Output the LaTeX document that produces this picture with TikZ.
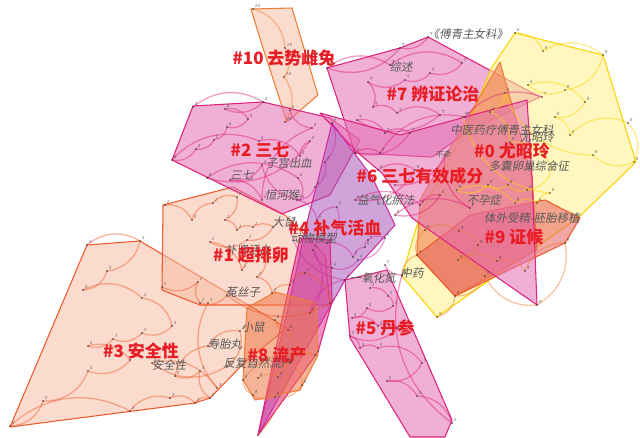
\documentclass[tikz,border=0pt]{standalone}
\usepackage{fontspec}
\newfontfamily\cjk{Noto Sans CJK SC}
\newfontfamily\cjkit[FakeSlant=0.18]{Noto Sans CJK SC}
\definecolor{peachF}{RGB}{248,190,165}
\definecolor{peachD}{RGB}{238,90,45}
\definecolor{pinkF}{RGB}{228,110,180}
\definecolor{pinkD}{RGB}{222,35,125}
\definecolor{yelF}{RGB}{255,242,140}
\definecolor{yelD}{RGB}{250,212,0}
\definecolor{oraF}{RGB}{240,120,70}
\definecolor{oraD}{RGB}{240,125,55}
\definecolor{redF}{RGB}{232,95,95}
\definecolor{purF}{RGB}{170,90,185}
\definecolor{purD}{RGB}{205,45,165}
\definecolor{magF}{RGB}{222,55,150}
\definecolor{cluRed}{RGB}{232,28,36}
% points of one cluster: name, number, arc colour, list
\newcommand\clusterdots[4]{%
  \foreach \x/\y [count=\i] in {#4} {\coordinate (#1-\i) at (\x,\y);}
  \foreach \x/\y [count=\i, remember=\i as \j (initially 1)] in {#4}
    {\ifnum\i>1 \draw[arc=#3] (#1-\j) to[bend left=35] (#1-\i);\fi}
  \foreach \x/\y [count=\i] in {#4} {\node[dot=#2] (#1-n\i) at (#1-\i) {};}
}
\begin{document}
\begin{tikzpicture}[x=0.03cm, y=-0.03cm]
\tikzset{
  hull/.style 2 args={draw=#1, fill=#2, fill opacity=0.55, line width=0.9pt, line join=round},
  arc/.style={draw=#1, line width=1.1pt, opacity=0.45},
  dot/.style={circle, fill=black!80, inner sep=0.55pt,
    label={[font=\fontsize{4}{4}\itshape\selectfont, text=black!75, inner sep=0.3pt]45:#1}},
  clu/.style={font=\cjk\bfseries\fontsize{14.5}{15}\selectfont, text=cluRed, inner sep=0pt},
  kw/.style={font=\cjkit\fontsize{9.8}{10}\selectfont, text=black!65, inner sep=0pt},
}
\fill[white] (0,0) rectangle (640,437);
\useasboundingbox (0,0) rectangle (640,437);
% -------------------------------------------------
% cluster hulls
\draw[hull={peachD}{peachF}] (10,427) -- (87,245) -- (140,241) -- (287,328) -- (245,362) -- (210,398) -- (195,403) -- cycle;
\draw[hull={peachD}{peachF}] (163,205) -- (233,187) -- (285,215) -- (325,255) -- (330,305) -- (200,305) -- (162,290) -- cycle;
\draw[hull={oraD}{peachF}] (251,9) -- (292,8) -- (318,95) -- (287,122) -- (262,45) -- cycle;
\draw[hull={pinkD}{pinkF}] (193,106) -- (263,102) -- (330,118) -- (360,140) -- (330,195) -- (282,214) -- (172,160) -- cycle;
\draw[hull={pinkD}{pinkF}] (327,68) -- (400,48) -- (428,37) -- (540,97) -- (470,130) -- (432,157) -- (355,153) -- cycle;
\draw[hull={yelD}{yelF}] (515,33) -- (603,55) -- (636,162) -- (578,218) -- (437,317) -- (402,276) -- (420,215) -- (470,120) -- (492,67) -- cycle;
\draw[hull={oraD}{oraF}] (500,62) -- (532,177) -- (537,250) -- (455,296) -- (417,255) -- (420,200) -- cycle;
\draw[hull={peachD}{redF}] (417,255) -- (455,296) -- (565,243) -- (580,218) -- (545,200) -- (470,215) -- cycle;
\draw[hull={pinkD}{pinkF}] (320,113) -- (400,135) -- (527,100) -- (532,177) -- (537,305) -- (412,218) -- (382,173) -- (357,152) -- cycle;
\draw[hull={purD}{purF}] (332,123) -- (372,177) -- (395,225) -- (345,280) -- (258,435) -- (290,300) -- (305,230) -- (318,180) -- cycle;
\draw[hull={pinkD}{magF}] (300,238) -- (330,240) -- (332,302) -- (318,352) -- (258,435) -- (285,305) -- cycle;
\draw[hull={oraD}{oraF}] (247,308) -- (275,292) -- (316,303) -- (318,355) -- (300,390) -- (255,400) -- (243,380) -- cycle;
\draw[hull={pinkD}{pinkF}] (345,280) -- (387,270) -- (452,420) -- (445,437) -- (410,437) -- (350,338) -- cycle;
% -------------------------------------------------
% member points and their links
\clusterdots{c10}{10}{oraD}{253/9, 285/48, 284/77, 285/122}
\clusterdots{c2}{2}{pinkD}{193/107, 263/102, 225/109, 248/119, 227/127, 214/140, 196/149, 172/160, 259/141, 300/156, 310/141, 207/178, 298/178, 300/200, 262/165, 230/180, 262/200, 312/128, 290/110}
\clusterdots{c7}{7}{pinkD}{428/37, 400/48, 327/68, 390/65, 462/63, 430/73, 405/80, 368/82, 373/107, 397/113, 440/115, 357/120, 385/133, 410/133, 355/153, 380/153, 465/117, 542/97}
\clusterdots{c0}{0}{yelD}{515/33, 543/51, 603/55, 565/90, 528/85, 585/102, 555/117, 570/135, 628/123, 634/162, 593/155, 505/93, 490/112, 510/142, 552/168, 527/190, 508/185, 488/185, 457/190, 515/203, 537/203, 550/193, 463/117}
\clusterdots{c9}{9}{oraD}{402/276, 417/255, 425/230, 459/231, 478/245, 458/260, 497/261, 525/271, 565/243, 537/305, 485/276, 455/296, 437/317}
\clusterdots{c6}{6}{pinkD}{378/170, 415/170, 355/200, 420/205, 440/195, 395/215, 470/208, 445/155, 395/185}
\clusterdots{c4}{4}{purD}{332/123, 325/162, 315/187, 297/200, 317/220, 337/207, 327/243, 353/257, 365/247, 368/240, 385/238, 358/260, 332/268, 313/250, 310/313, 345/280, 290/228}
\clusterdots{c1}{1}{peachD}{165/205, 192/220, 213/203, 237/197, 225/220, 237/230, 253/227, 273/227, 247/240, 210/242, 242/270, 265/255, 257/277, 272/293, 290/285, 305/273, 330/303, 227/295, 200/303, 198/282, 162/287}
\clusterdots{c3}{3}{peachD}{87/245, 140/241, 107/271, 83/290, 142/298, 172/326, 142/333, 113/339, 88/346, 130/360, 88/371, 43/401, 10/426, 130/411, 170/398, 195/403, 210/398, 200/371, 175/376, 208/346, 240/331, 227/366, 152/363, 217/388, 208/303}
\clusterdots{c8}{8}{oraD}{258/378, 278/377, 290/363, 302/385, 275/397, 253/395, 243/380, 315/355, 288/330, 275/320, 258/435}
\clusterdots{c5}{5}{pinkD}{370/288, 388/296, 393/306, 367/308, 352/318, 378/326, 398/328, 350/336, 360/348, 378/348, 422/363, 387/381, 417/396, 452/423, 402/275, 385/265}
% -------------------------------------------------
% keywords
\node[kw] (kwFuQing)  at (468,34)  {《傅青主女科》};
\node[kw] (kwZongShu) at (401,67)  {综述};
\node[kw] (kwZhongYi) at (502,130) {中医药疗傅青主女科};
\node[kw] (kwYou)     at (537,137) {尤昭玲};
\node[kw] (kwDuoNang) at (529,166) {多囊卵巢综合征};
\node[kw, font=\cjkit\fontsize{6.5}{7}\selectfont] (kwBuYun) at (443,155) {不孕};
\node[kw] (kwYiQi)    at (386,200) {益气化瘀法};
\node[kw] (kwBuYunZ)  at (484,200) {不孕症};
\node[kw] (kwTiWai)   at (532,218) {体外受精-胚胎移植};
\node[kw] (kwZiGong)  at (289,163) {子宫出血};
\node[kw] (kwSanQi)   at (242,175) {三七};
\node[kw] (kwHengHe)  at (282,195) {恒河猴};
\node[kw] (kwDaShu)   at (284,222) {大鼠};
\node[kw] (kwDongWu)  at (314,238) {动物模型};
\node[kw] (kwBuShen)  at (248,250) {补肾活血};
\node[kw] (kwTuSi)    at (243,292) {菟丝子};
\node[kw] (kwYiYang)  at (373,278) {一氧化氮};
\node[kw] (kwZhongYao) at (412,273) {中药};
\node[kw] (kwXiaoShu) at (253,327) {小鼠};
\node[kw] (kwShouTai) at (225,344) {寿胎丸};
\node[kw] (kwFanFu)   at (258,363) {反复自然流产};
\node[kw] (kwAnQuan)  at (169,365) {安全性};
% -------------------------------------------------
% cluster labels
\node[clu] (lab10) at (284,58)  {\#10 去势雌兔};
\node[clu] (lab7)  at (433,94)  {\#7 辨证论治};
\node[clu] (lab2)  at (260,150) {\#2 三七};
\node[clu] (lab0)  at (512,151) {\#0 尤昭玲};
\node[clu] (lab6)  at (420,176) {\#6 三七有效成分};
\node[clu] (lab4)  at (335,228) {\#4 补气活血};
\node[clu] (lab9)  at (514,237) {\#9 证候};
\node[clu] (lab1)  at (251,255) {\#1 超排卵};
\node[clu] (lab5)  at (385,328) {\#5 丹参};
\node[clu] (lab3)  at (141,351) {\#3 安全性};
\node[clu] (lab8)  at (277,355) {\#8 流产};
% -------------------------------------------------
\end{tikzpicture}
\end{document}
